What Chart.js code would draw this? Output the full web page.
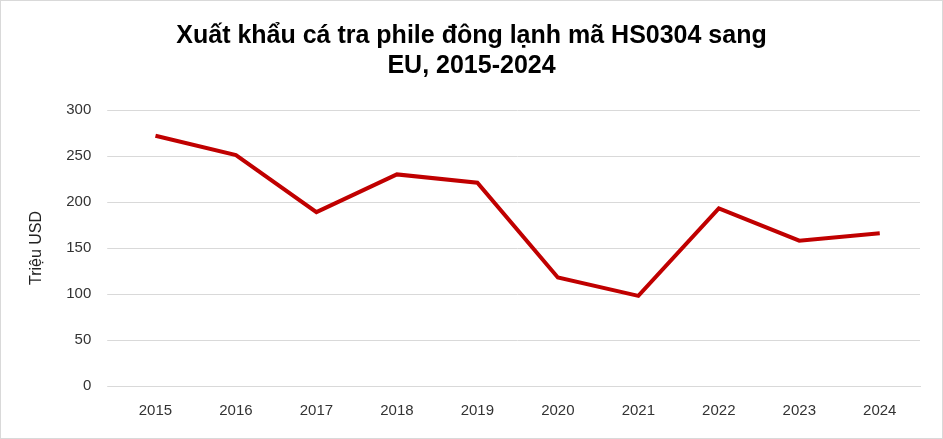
<!DOCTYPE html>
<html><head><meta charset="utf-8">
<script src="https://cdn.jsdelivr.net/npm/chart.js@4"></script>
<style>html,body{margin:0;padding:0;background:#fff}#w{width:941px;height:437px;border:1px solid #d9d9d9;position:relative}</style>
</head><body><div id="w"><canvas id="c"></canvas></div>
<script>
const categories=['2015','2016','2017','2018','2019','2020','2021','2022','2023','2024'];
const values=[272,251,189,230,221,118,98,193,158,166];
const yTicks=[0,50,100,150,200,250,300];
new Chart(document.getElementById('c'),{type:'line',
data:{labels:categories,datasets:[{data:values,borderColor:'#c00000',borderWidth:4,pointRadius:0,tension:0,fill:false}]},
options:{responsive:true,maintainAspectRatio:false,animation:false,
layout:{padding:{left:22,right:22,top:12,bottom:10}},
plugins:{legend:{display:false},tooltip:{enabled:false},
title:{display:true,text:['Xuất khẩu cá tra phile đông lạnh mã HS0304 sang','EU, 2015-2024'],color:'#000',font:{family:'Liberation Sans',size:25,weight:'bold'},padding:{top:8,bottom:29},lineHeight:1.25}},
scales:{x:{offset:true,grid:{display:false},border:{color:'#d9d9d9'},ticks:{color:'#333',font:{family:'Liberation Sans',size:15},padding:8}},
y:{min:0,max:300,afterBuildTicks:a=>{a.ticks=yTicks.map(v=>({value:v}))},grid:{color:'#d9d9d9'},border:{display:false},
ticks:{color:'#333',font:{family:'Liberation Sans',size:15},padding:16},
title:{display:true,text:'Triệu USD',color:'#222',font:{family:'Liberation Sans',size:16}}}}}});
</script></body></html>
